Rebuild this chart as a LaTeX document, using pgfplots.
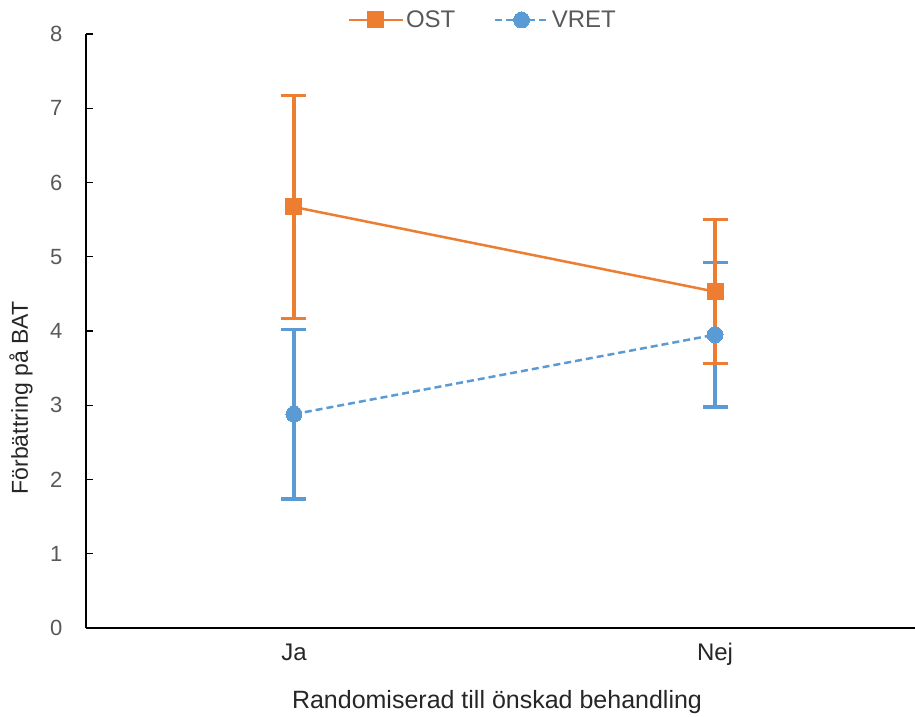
\documentclass[border=0pt]{standalone}
\usepackage{pgfplots}
\pgfplotsset{compat=1.18}
\usepackage{fontspec}
\setmainfont{Liberation Sans}
\definecolor{ost}{HTML}{ED7D31}
\definecolor{vret}{HTML}{5B9BD5}
\definecolor{tickgrey}{HTML}{595959}
\definecolor{labtxt}{HTML}{262626}
\begin{document}
\begin{tikzpicture}
\useasboundingbox (0pt,0pt) rectangle (915pt,717pt);
\begin{axis}[
  at={(86pt,89pt)}, anchor=south west,
  width=829pt, height=594pt, scale only axis,
  xmin=-0.494, xmax=1.475, ymin=0, ymax=8,
  axis lines*=left,
  axis line style={black, line width=1.3pt},
  xtick={0,1}, xticklabels={Ja,Nej},
  ytick={0,1,2,3,4,5,6,7,8},
  x tick style={draw=none},
  y tick style={black, line width=1.3pt},
  tick align=inside,
  major tick length=7pt,
  yticklabel style={font=\fontsize{22}{26}\selectfont, color=tickgrey, xshift=-20pt},
  xticklabel style={font=\fontsize{24}{28}\selectfont, color=labtxt, yshift=-12pt},
  /pgf/number format/assume math mode=true,
  legend style={at={(0.4785,1.0236)}, anchor=center, draw=none, fill=none,
    font=\fontsize{24}{28}\selectfont, text=tickgrey,
    legend columns=2, /tikz/every even column/.append style={column sep=36pt},
    nodes={inner sep=2pt}},
  legend image code/.code={\draw[mark repeat=2,mark phase=2] plot coordinates {(0pt,0pt) (27pt,0pt) (54pt,0pt)};},
  clip=false,
]
% VRET error bars underneath
\addplot[draw=none, forget plot, mark=none,
  error bars/.cd, y dir=both, y explicit, error mark=|,
  error bar style={line width=3.6pt, color=vret, solid},
  error mark options={line width=3.6pt, mark size=12.5pt, color=vret, solid}]
  coordinates {(0,2.88) +- (0,1.14) (1,3.95) +- (0,0.97)};
% OST
\addplot[color=ost, line width=2.5pt, mark=square*, mark size=8pt,
  mark options={solid, fill=ost, draw=ost, line width=0pt},
  error bars/.cd, y dir=both, y explicit, error mark=|,
  error bar style={line width=3.6pt, color=ost, solid},
  error mark options={line width=3.6pt, mark size=12.5pt, color=ost, solid}]
  coordinates {(0,5.67) +- (0,1.50) (1,4.53) +- (0,0.97)};
\addlegendentry{OST}
% VRET line and marks
\addplot[color=vret, line width=2.5pt, dash pattern=on 7pt off 4pt, mark=*, mark size=8pt,
  mark options={solid, fill=vret, draw=vret, line width=0pt}]
  coordinates {(0,2.88) (1,3.95)};
\addlegendentry{VRET}
\end{axis}
\node[rotate=90, font=\fontsize{23}{27}\selectfont, text=labtxt] at (21pt,319pt) {Förbättring på BAT};
\node[font=\fontsize{25}{29}\selectfont, text=labtxt] at (497pt,15pt) {Randomiserad till önskad behandling};
\end{tikzpicture}
\end{document}
